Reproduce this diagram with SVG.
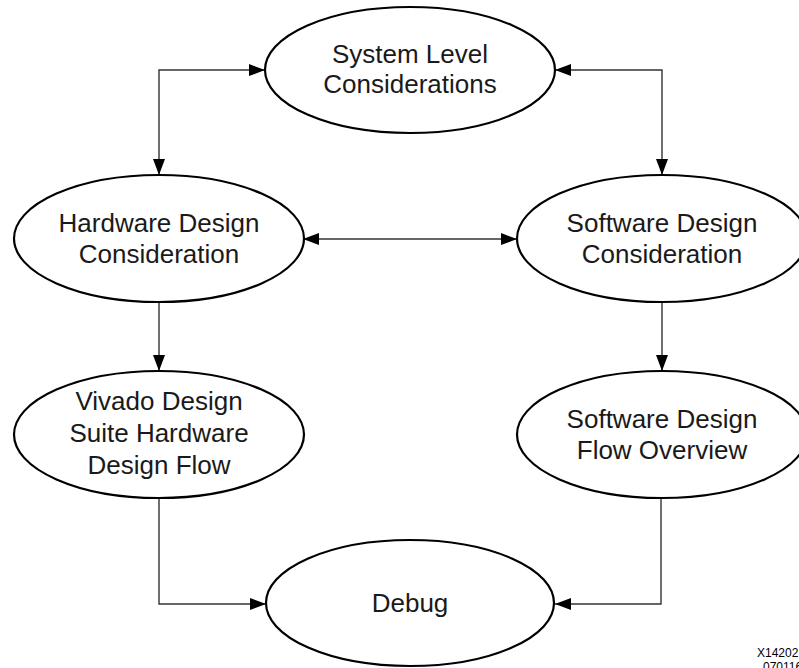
<svg xmlns="http://www.w3.org/2000/svg" width="799" height="668" viewBox="0 0 799 668">
<defs>
<marker id="arr" viewBox="0 0 16 12" refX="16" refY="6" markerWidth="16" markerHeight="12" markerUnits="userSpaceOnUse" orient="auto-start-reverse">
<path d="M0,0 L16,6 L0,12 Z" fill="#000"/>
</marker>
<style>
.node ellipse{fill:#fff;stroke:#000;stroke-width:2.2}
.node text{font-family:"Liberation Sans",Arial,sans-serif;font-size:26px;fill:#1a1a1a;text-anchor:middle}
.conn path{fill:none;stroke:#333;stroke-width:1.4}
.note{font-family:"Liberation Sans",Arial,sans-serif;font-size:12px;fill:#000}
</style>
</defs>
<rect width="799" height="668" fill="#fff"/>
<g class="conn" id="connectors">
<path d="M265,70 H159 V175" marker-start="url(#arr)" marker-end="url(#arr)"/>
<path d="M555,70 H662 V175" marker-start="url(#arr)" marker-end="url(#arr)"/>
<path d="M303,239 H517" marker-start="url(#arr)" marker-end="url(#arr)"/>
<path d="M159,302 V371" marker-end="url(#arr)"/>
<path d="M662,302 V371" marker-end="url(#arr)"/>
<path d="M159,498 V604 H266" marker-end="url(#arr)"/>
<path d="M661,498 V604 H555" marker-end="url(#arr)"/>
</g>
<g class="node" id="system">
<ellipse cx="410" cy="70" rx="145" ry="63"/>
<text x="410" y="63">System Level</text>
<text x="410" y="93">Considerations</text>
</g>
<g class="node" id="hardware">
<ellipse cx="159" cy="238.5" rx="145" ry="63.5"/>
<text x="159" y="232">Hardware Design</text>
<text x="159" y="263">Consideration</text>
</g>
<g class="node" id="software">
<ellipse cx="662" cy="238.5" rx="145" ry="63.5"/>
<text x="662" y="232">Software Design</text>
<text x="662" y="263">Consideration</text>
</g>
<g class="node" id="vivado">
<ellipse cx="159" cy="434.5" rx="145" ry="63.5"/>
<text x="159" y="410">Vivado Design</text>
<text x="159" y="442">Suite Hardware</text>
<text x="159" y="474">Design Flow</text>
</g>
<g class="node" id="swflow">
<ellipse cx="662" cy="434.5" rx="145" ry="63.5"/>
<text x="662" y="428">Software Design</text>
<text x="662" y="459">Flow Overview</text>
</g>
<g class="node" id="debug">
<ellipse cx="410" cy="603" rx="144" ry="63"/>
<text x="410" y="612">Debug</text>
</g>
<text class="note" x="757" y="657">X14202</text>
<text class="note" x="763" y="671">070116</text>
</svg>
